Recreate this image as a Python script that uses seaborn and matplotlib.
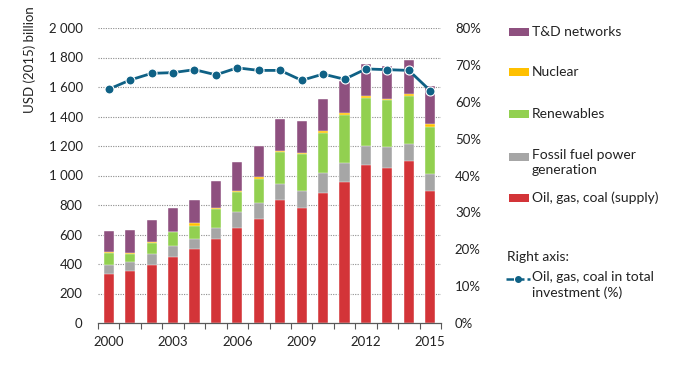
import numpy as np
import pandas as pd
import matplotlib
matplotlib.use("Agg")
import matplotlib.pyplot as plt
from matplotlib.patches import Rectangle
from matplotlib.lines import Line2D
import seaborn as sns

years = [str(y) for y in range(2000, 2016)]
oil_gas_coal = [332, 353, 391, 445, 504, 572, 644, 705, 834, 778, 879, 958, 1073, 1051, 1096, 897]
fossil_power = [61, 58, 79, 79, 68, 72, 106, 109, 108, 119, 141, 127, 129, 140, 120, 111]
renewables = [84, 57, 70, 91, 88, 129, 138, 164, 215, 249, 270, 327, 321, 321, 323, 319]
nuclear = [4, 7, 9, 5, 16, 9, 7, 9, 8, 6, 12, 12, 14, 9, 11, 20]
td_networks = [145, 155, 151, 158, 158, 183, 194, 211, 220, 215, 217, 215, 217, 221, 231, 258]
share_pct = [63.4, 65.9, 67.7, 67.9, 68.7, 67.3, 69.2, 68.5, 68.5, 65.8, 67.5, 66.1, 68.9, 68.7, 68.5, 63.0]

series_names = ["Oil, gas, coal (supply)", "Fossil fuel power\ngeneration", "Renewables", "Nuclear", "T&D networks"]
series_vals = [oil_gas_coal, fossil_power, renewables, nuclear, td_networks]
colors = ["#D33438", "#A6A6A6", "#92D050", "#FFC000", "#8E507F"]
line_color = "#0F6185"

sns.set_theme(style="white")
plt.rcParams["font.family"] = ["Lato", "DejaVu Sans"]
txt_color = "#222222"

W, H = 682, 378
fig = plt.figure(figsize=(W / 100, H / 100), dpi=100)
ax = fig.add_axes([98 / W, 1 - 323 / H, (441 - 98) / W, (323 - 28) / H])

cum = np.cumsum(np.array(series_vals), axis=0)
# draw from top-most cumulative downwards so lower layers overlay
for i in range(len(series_vals) - 1, -1, -1):
    df = pd.DataFrame({"year": years, "value": cum[i]})
    sns.barplot(data=df, x="year", y="value", color=colors[i], saturation=1,
                width=0.47, ax=ax, edgecolor="white", linewidth=0.3, zorder=2)

ax.set_ylim(0, 2000)
ax.set_xlim(-0.5, len(years) - 0.5)
ax.set_yticks(range(0, 2001, 200))
ax.set_yticklabels([f"{v:,}".replace(",", " ") for v in range(0, 2001, 200)])
for v in range(200, 2001, 200):
    ax.axhline(v, color="#8C8C8C", linestyle=(0, (1, 1.2)), linewidth=0.8, zorder=1)
ax.set_xticks(range(0, len(years), 3))
ax.set_xticklabels(years[::3])
ax.set_xticks(np.arange(-0.5, len(years), 1), minor=True)
ax.tick_params(axis="x", which="major", length=0, pad=9, labelsize=9.5, colors=txt_color)
ax.tick_params(axis="x", which="minor", length=4, width=0.8, color="#595959", direction="out", bottom=True)
ax.tick_params(axis="y", length=0, pad=11, labelsize=9.5, colors=txt_color)
ax.set_xlabel("")
ax.set_ylabel("")
for s in ["top", "right", "left"]:
    ax.spines[s].set_visible(False)
ax.spines["bottom"].set_color("#595959")
ax.spines["bottom"].set_linewidth(0.9)

ax2 = ax.twinx()
sns.lineplot(x=np.arange(len(years)), y=share_pct, ax=ax2, color=line_color, linewidth=2,
             marker="o", markersize=6.5, markeredgecolor="white", markeredgewidth=0.8, zorder=5)
ax2.set_ylim(0, 80)
ax2.set_xlim(-0.5, len(years) - 0.5)
ax2.set_yticks(range(0, 81, 10))
ax2.set_yticklabels([f"{v}%" for v in range(0, 81, 10)])
ax2.tick_params(axis="y", length=0, pad=10, labelsize=9.5, colors=txt_color)
ax2.set_ylabel("")
for s in ax2.spines.values():
    s.set_visible(False)

fig.text(30 / W, 1 - 60 / H, "USD (2015) billion", rotation=90, ha="center", va="center",
         fontsize=9.5, color=txt_color)

# legend
lfs = 10
leg_items = [("T&D networks", 32, 4), ("Nuclear", 72, 3), ("Renewables", 114, 2),
             ("Fossil fuel power\ngeneration", 157, 1), ("Oil, gas, coal (supply)", 198, 0)]
for label, yc, ci in leg_items:
    fig.add_artist(Rectangle((509 / W, 1 - (yc + 4) / H), 20 / W, 8 / H,
                             transform=fig.transFigure, facecolor=colors[ci], edgecolor="none"))
    if "\n" in label:
        fig.text(532 / W, 1 - (yc - 8) / H, label, ha="left", va="top",
                 fontsize=lfs, color=txt_color, linespacing=1.35)
    else:
        fig.text(532 / W, 1 - yc / H, label, ha="left", va="center",
                 fontsize=lfs, color=txt_color)
fig.text(507 / W, 1 - 257 / H, "Right axis:", ha="left", va="center", fontsize=lfs, color=txt_color)
fig.add_artist(Line2D([506 / W, 530 / W], [1 - 279 / H, 1 - 279 / H], transform=fig.transFigure,
                      color=line_color, linewidth=1.8, linestyle=(0, (3, 1.2))))
fig.add_artist(Line2D([518 / W], [1 - 279 / H], transform=fig.transFigure, color=line_color,
                      marker="o", markersize=4, linestyle="none"))
fig.text(532 / W, 1 - 271 / H, "Oil, gas, coal in total\ninvestment (%)", ha="left", va="top",
         fontsize=lfs, color=txt_color, linespacing=1.35)

fig.savefig("out.png", dpi=100)
